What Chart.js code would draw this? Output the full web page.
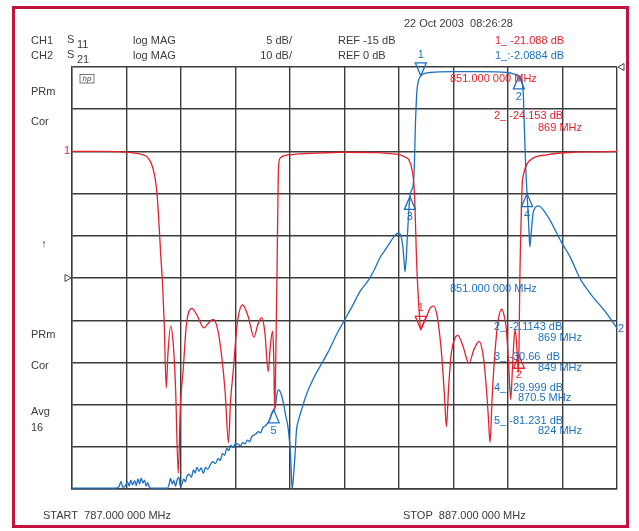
<!DOCTYPE html>
<html>
<head>
<meta charset="utf-8">
<script src="https://cdn.jsdelivr.net/npm/chart.js@4.4.1/dist/chart.umd.min.js"></script>
<style>
  html, body { margin: 0; padding: 0; background: #ffffff; }
  #wrap { width: 639px; height: 531px; }
</style>
</head>
<body>
<div id="wrap"><canvas id="c" width="639" height="531"></canvas></div>
<script>
// ---------------- DATA ----------------
// Frequency axis (MHz)
const startFreq = 787;
const stopFreq = 887;
const xGridTicks = [787, 797, 807, 817, 827, 837, 847, 857, 867, 877, 887];

// CH1: S11 log MAG (dB), 5 dB/div
const s11Freq = [787, 792, 796, 798.5, 800, 800.7, 801.6, 802.2, 802.6, 803.0, 803.3, 803.6, 803.9, 804.3, 804.6, 805.1, 805.6, 806.0, 806.5, 806.9, 807.4, 808.0, 809.0, 810.0, 811.2, 812.1, 812.9, 813.7, 814.4, 815.1, 815.7, 816.1, 816.6, 817.3, 818.3, 819.3, 820.4, 821.1, 821.8, 822.4, 823.0, 823.4, 823.8, 824.0, 824.2, 824.4, 824.6, 824.8, 824.9, 825.2, 827, 832, 837, 843, 846, 847.2, 848.2, 848.8, 849.4, 849.8, 850.0, 850.2, 850.4, 850.7, 851.0, 851.5, 852.1, 852.7, 853.3, 854.0, 854.8, 855.3, 855.7, 856.1, 856.6, 857.2, 857.8, 858.8, 859.8, 860.8, 861.7, 862.4, 862.9, 863.4, 863.7, 864.1, 864.6, 865.2, 865.9, 866.4, 866.7, 867.1, 867.5, 867.9, 868.3, 868.6, 868.9, 869.0, 869.1, 869.2, 869.3, 869.45, 869.6, 869.9, 870.4, 871.6, 874.1, 878.9, 883, 887];
const s11Val  = [0, 0, -0.05, -0.2, -0.4, -0.6, -1.5, -3, -5, -9, -12.5, -15.5, -20, -28, -24, -20.7, -23, -28, -38.1, -30, -25.9, -20.5, -18.6, -19.5, -20.9, -20.3, -19.9, -21, -23.9, -28.5, -34.5, -29.5, -25.9, -20.5, -18.2, -19.5, -22, -20.5, -19.7, -21.5, -26.1, -23, -21.3, -24, -30.8, -24, -15.2, -5, -1.8, -0.8, -0.4, -0.2, -0.1, -0.15, -0.3, -0.4, -0.7, -1.0, -2.2, -4.5, -8, -12.5, -15.5, -19, -21.088, -20.4, -19.5, -18.6, -18.3, -19.5, -23.9, -28.5, -32.6, -28, -23.9, -22.2, -21.8, -23.2, -25.1, -23.4, -22.5, -24, -27, -31.5, -34.5, -29, -23.9, -20, -18.7, -19.8, -21.1, -25, -29.4, -24.5, -21.1, -23, -26.2, -24.153, -19, -14, -11, -7, -4, -2.6, -1.6, -0.8, -0.4, -0.1, -0.05, 0];

// CH2: S21 log MAG (dB), 10 dB/div
const s21Freq = [787, 795.0, 795.6, 796.0, 796.3, 796.8, 797.2, 797.5, 797.8, 798.1, 798.5, 798.8, 799.1, 799.4, 799.7, 800.0, 800.3, 800.6, 800.9, 801.2, 801.6, 804.5, 804.8, 805.1, 805.4, 805.7, 806.0, 806.3, 806.6, 806.9, 807.2, 807.5, 807.8, 808.1, 808.5, 808.9, 809.3, 809.6, 809.9, 810.3, 810.7, 811.1, 811.5, 811.9, 812.4, 812.8, 813.3, 813.8, 814.2, 814.6, 815.0, 815.4, 815.8, 816.1, 816.6, 817.0, 817.5, 817.9, 818.3, 818.7, 819.2, 819.6, 820.0, 820.4, 820.8, 821.2, 821.6, 822.0, 822.4, 822.9, 823.3, 823.6, 824.0, 824.3, 824.6, 824.9, 825.3, 825.8, 826.2, 826.7, 827.1, 827.4, 827.7, 827.9, 828.2, 828.6, 829.1, 830.1, 831.3, 832.5, 834.0, 835.5, 837.0, 838.5, 839.8, 841.4, 842.5, 843.5, 844.5, 845.5, 846.3, 846.9, 847.3, 847.7, 847.9, 848.1, 848.3, 848.5, 848.7, 849.0, 849.3, 849.6, 849.75, 849.85, 850.0, 850.15, 850.3, 850.6, 851.0, 851.5, 852.7, 857, 862, 866.8, 868, 869.0, 869.5, 869.8, 870.0, 870.2, 870.35, 870.5, 870.7, 870.85, 871.0, 871.3, 871.6, 872.0, 872.6, 873.5, 874.7, 876.8, 878.4, 880.2, 882.0, 885.1, 887];
const s21Val  = [-99.8, -99.8, -99.5, -98.2, -99.6, -99.2, -98.3, -99.3, -97.9, -99, -98, -99.2, -97.6, -98.8, -97.4, -98.6, -97.9, -99.3, -98.5, -99.6, -99.8, -99.8, -99, -97.5, -98.8, -98, -99.3, -97.8, -97.2, -99.5, -98.7, -97.6, -98.3, -97, -96.5, -97.2, -95.5, -96.2, -94.9, -95.8, -95, -96.3, -94.9, -95.3, -94.2, -93.5, -94, -92.8, -93.2, -91.6, -92, -90.4, -90.9, -89.6, -90.2, -89.2, -89.4, -89.8, -89, -89.3, -88.4, -88.8, -87.6, -87.2, -86.9, -86.4, -86.7, -85.5, -85.1, -84.4, -83.5, -82.2, -81.231, -80.5, -77.5, -76.5, -77.2, -79.7, -82.5, -86, -92, -100, -96, -92.3, -86, -83.5, -81.3, -77.3, -73.8, -71, -67.5, -63.5, -60, -56.5, -53.3, -50.5, -48, -45.2, -43.3, -41.3, -39.8, -39.4, -39.8, -42.6, -45.5, -48.5, -46, -41, -36.3, -30.66, -29.2, -28, -25.5, -22, -14.1, -9, -5.5, -3.1, -2.0884, -1.6, -1.3, -1.1, -1.1, -1.3, -1.6, -2.1143, -3.1, -6.2, -14.1, -22, -26.5, -29.999, -34.7, -39, -42.6, -38.6, -34.7, -33.3, -32.9, -33.9, -36.3, -41.5, -45, -50.1, -53.5, -58.4, -61.9];

// Markers
const s11MarkerLabel = ['1', '2'];
const s11MarkerFreq  = [851, 869];
const s11MarkerVal   = [-21.088, -24.153];
const s21MarkerLabel = ['1', '2', '3', '4', '5'];
const s21MarkerFreq  = [851, 869, 849, 870.5, 824];
const s21MarkerVal   = [-2.0884, -2.1143, -30.66, -29.999, -81.231];

// Scales
const ch1Ref = 0, ch1PerDiv = 5;     // CH1 reference line value, dB/div
const ch2Top = 0, ch2PerDiv = 10;    // CH2 top line value, dB/div

// ---------------- STYLE ----------------
const RED = '#e3222d';
const BLUE = '#1b70c0';
const TXT = '#3a3a3a';
const FONT = '"Liberation Sans", Arial, sans-serif';

function tri(ctx, x, y, down, w, h) {
  ctx.beginPath();
  if (down) {
    ctx.moveTo(x, y); ctx.lineTo(x - w / 2, y - h); ctx.lineTo(x + w / 2, y - h);
  } else {
    ctx.moveTo(x, y); ctx.lineTo(x - w / 2, y + h); ctx.lineTo(x + w / 2, y + h);
  }
  ctx.closePath();
  ctx.stroke();
}

const decor = {
  id: 'decor',
  beforeDraw(chart) {
    const ctx = chart.ctx;
    ctx.save();
    ctx.fillStyle = '#ffffff';
    ctx.fillRect(0, 0, chart.width, chart.height);
    ctx.restore();
  },
  afterDatasetsDraw(chart) {
    const ctx = chart.ctx;
    const xs = chart.scales.x, y1 = chart.scales.y1, y2 = chart.scales.y;
    const ca = chart.chartArea;
    ctx.save();
    ctx.lineWidth = 1.3;
    // markers CH1
    ctx.strokeStyle = RED; ctx.fillStyle = RED;
    ctx.font = '11px ' + FONT; ctx.textAlign = 'center'; ctx.textBaseline = 'middle';
    s11MarkerFreq.forEach((f, i) => {
      const px = xs.getPixelForValue(f), py = y1.getPixelForValue(s11MarkerVal[i]);
      const down = i === 0;
      tri(ctx, px, py, down, 11, 13);
      ctx.fillText(s11MarkerLabel[i], px, down ? py - 21 : py + 20);
    });
    // markers CH2
    ctx.strokeStyle = BLUE; ctx.fillStyle = BLUE;
    s21MarkerFreq.forEach((f, i) => {
      const px = xs.getPixelForValue(f), py = y2.getPixelForValue(s21MarkerVal[i]);
      const down = i === 0;
      tri(ctx, px, py, down, 11, 13);
      ctx.fillText(s21MarkerLabel[i], px, down ? py - 21 : py + 21);
    });

    // reference position indicators
    ctx.strokeStyle = '#444'; ctx.lineWidth = 1;
    ctx.beginPath(); // right, top (CH2 ref)
    const ry = y2.getPixelForValue(ch2Top);
    ctx.moveTo(ca.right + 1, ry); ctx.lineTo(ca.right + 7, ry - 3.5); ctx.lineTo(ca.right + 7, ry + 3.5); ctx.closePath(); ctx.stroke();
    ctx.beginPath(); // left, centre
    const ly = (ca.top + ca.bottom) / 2;
    ctx.moveTo(ca.left - 1, ly); ctx.lineTo(ca.left - 7, ly - 3.5); ctx.lineTo(ca.left - 7, ly + 3.5); ctx.closePath(); ctx.stroke();

    // hp logo
    ctx.strokeStyle = '#555'; ctx.lineWidth = 0.8;
    ctx.strokeRect(80, 74.5, 14, 8.5);
    ctx.fillStyle = '#444'; ctx.font = 'italic 8px ' + FONT; ctx.textAlign = 'center';
    ctx.fillText('hp', 87, 79);

    // text in plot
    ctx.font = '11px ' + FONT; ctx.textAlign = 'left'; ctx.textBaseline = 'middle';
    ctx.fillStyle = RED;
    ctx.fillText('851.000 000 MHz', 450, 79);
    ctx.fillText('2_ -24.153 dB', 494, 116);
    ctx.fillText('869 MHz', 538, 128);
    ctx.fillStyle = BLUE;
    ctx.fillText('851.000 000 MHz', 450, 289);
    ctx.fillText('2_:-2.1143 dB', 494, 327);
    ctx.fillText('869 MHz', 538, 338);
    ctx.fillText('3_:-30.66  dB', 494, 357);
    ctx.fillText('849 MHz', 538, 368);
    ctx.fillText('4_:-29.999 dB', 494, 388);
    ctx.fillText('870.5 MHz', 518, 398);
    ctx.fillText('5_:-81.231 dB', 494, 421);
    ctx.fillText('824 MHz', 538, 431);
    ctx.fillText('2', ca.right + 1, 329);
    ctx.restore();
  },
  afterDraw(chart) {
    const ctx = chart.ctx;
    ctx.save();
    ctx.font = '11px ' + FONT; ctx.textBaseline = 'middle'; ctx.textAlign = 'left';
    ctx.fillStyle = TXT;
    ctx.fillText('22 Oct 2003  08:26:28', 404, 24);
    ctx.fillText('CH1', 31, 41);
    ctx.fillText('CH2', 31, 56);
    ctx.fillText('S', 67, 40); ctx.fillText('11', 77, 45);
    ctx.fillText('S', 67, 55); ctx.fillText('21', 77, 60);
    ctx.fillText('log MAG', 133, 41);
    ctx.fillText('log MAG', 133, 56);
    ctx.textAlign = 'right';
    ctx.fillText(ch1PerDiv + ' dB/', 292, 41);
    ctx.fillText(ch2PerDiv + ' dB/', 292, 56);
    ctx.textAlign = 'left';
    ctx.fillText('REF -15 dB', 338, 41);
    ctx.fillText('REF 0 dB', 338, 56);
    ctx.fillStyle = RED; ctx.fillText('1_ -21.088 dB', 495, 41);
    ctx.fillStyle = BLUE; ctx.fillText('1_:-2.0884 dB', 495, 56);
    ctx.fillStyle = TXT;
    ctx.fillText('START  787.000 000 MHz', 43, 516);
    ctx.fillText('STOP  887.000 000 MHz', 403, 516);
    ctx.fillText('PRm', 31, 92);
    ctx.fillText('Cor', 31, 122);
    ctx.fillText('PRm', 31, 335);
    ctx.fillText('Cor', 31, 366);
    ctx.fillText('Avg', 31, 412);
    ctx.fillText('16', 31, 428);
    ctx.textAlign = 'center';
    ctx.fillText('\u2191', 44, 244);
    ctx.fillStyle = RED; ctx.textAlign = 'right';
    ctx.fillText('1', 70, chart.scales.y1.getPixelForValue(ch1Ref));
    // outer frame
    ctx.strokeStyle = '#c4123f'; ctx.lineWidth = 3;
    ctx.strokeRect(13.5, 7.5, 614, 519);
    ctx.restore();
  }
};

const gridOpts = { color: '#3c3c3c', lineWidth: 1.4, drawTicks: false };

new Chart(document.getElementById('c'), {
  type: 'line',
  data: {
    datasets: [
      {
        label: 'S11',
        data: s11Freq.map((f, i) => ({ x: f, y: s11Val[i] })),
        yAxisID: 'y1',
        borderColor: RED, borderWidth: 1.3, pointRadius: 0,
        cubicInterpolationMode: 'monotone', fill: false
      },
      {
        label: 'S21',
        data: s21Freq.map((f, i) => ({ x: f, y: s21Val[i] })),
        yAxisID: 'y',
        borderColor: BLUE, borderWidth: 1.3, pointRadius: 0,
        cubicInterpolationMode: 'monotone', fill: false
      }
    ]
  },
  options: {
    responsive: false,
    animation: false,
    devicePixelRatio: 1,
    layout: { padding: { left: 72, right: 22, top: 67, bottom: 42 } },
    plugins: { legend: { display: false }, tooltip: { enabled: false } },
    scales: {
      x: {
        type: 'linear', min: startFreq, max: stopFreq,
        afterBuildTicks: (s) => { s.ticks = xGridTicks.map(v => ({ value: v })); },
        ticks: { display: false },
        grid: gridOpts,
        border: { display: true, color: '#3c3c3c', width: 1.4 }
      },
      y: {
        type: 'linear', position: 'left',
        min: ch2Top - 10 * ch2PerDiv, max: ch2Top,
        ticks: { display: false, stepSize: ch2PerDiv },
        grid: gridOpts,
        border: { display: true, color: '#3c3c3c', width: 1.4 }
      },
      y1: {
        type: 'linear', position: 'right', display: false,
        min: ch1Ref - 8 * ch1PerDiv, max: ch1Ref + 2 * ch1PerDiv
      }
    }
  },
  plugins: [decor]
});
</script>
</body>
</html>
